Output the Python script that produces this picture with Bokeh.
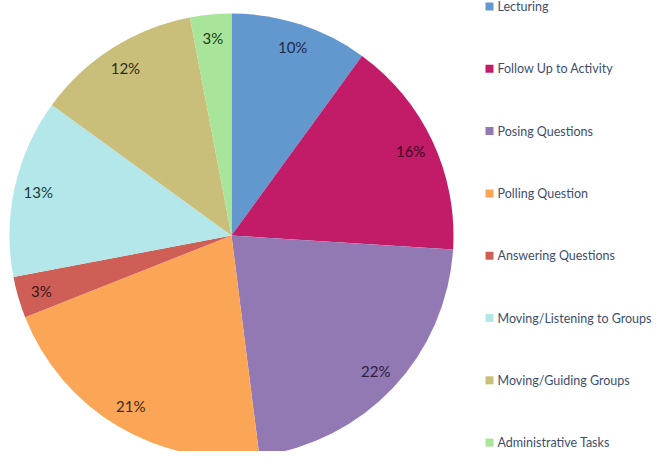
import math
from bokeh.plotting import figure
from bokeh.models import ColumnDataSource, Range1d
from bokeh.core.properties import value
from bokeh.embed import file_html
from bokeh.resources import INLINE

categories = ["Lecturing", "Follow Up to Activity", "Posing Questions", "Polling Question",
              "Answering Questions", "Moving/Listening to Groups", "Moving/Guiding Groups",
              "Administrative Tasks"]
percents = [10, 16, 22, 21, 3, 13, 12, 3]
colors = ["#6398CE", "#C21B67", "#9279B4", "#FBA557", "#CF5E57", "#B4E7E9", "#C9BF7A", "#A8E59A"]
label_colors = ["#1B2B4A", "#3E0820", "#2A2040", "#3A2A18", "#3A1512", "#1E3A3C", "#2E2C18", "#1E3A18"]

W, H = 656, 451
cx, cy, R = 231, 216, 222
label_r = 198

total = sum(percents)
starts, ends, lx, ly, texts = [], [], [], [], []
cum = 0
for v in percents:
    a0 = math.pi / 2 - 2 * math.pi * cum / total
    cum += v
    a1 = math.pi / 2 - 2 * math.pi * cum / total
    starts.append(a0)
    ends.append(a1)
    mid = (a0 + a1) / 2
    lx.append(cx + label_r * math.cos(mid))
    ly.append(cy + label_r * math.sin(mid))
    texts.append(f"{v}%")

src = ColumnDataSource(dict(cat=categories, start=starts, end=ends, color=colors,
                            lx=lx, ly=ly, txt=texts, tcol=label_colors))

p = figure(width=W, height=H, output_backend="svg", toolbar_location=None,
           x_range=Range1d(0, W), y_range=Range1d(0, H), min_border=0)
p.axis.visible = False
p.grid.visible = False
p.outline_line_color = None
p.background_fill_color = "white"

p.wedge(x=cx, y=cy, radius=R, start_angle="start", end_angle="end", direction="clock",
        fill_color="color", line_color=None, source=src)
p.text(x="lx", y="ly", text="txt", text_color="tcol", text_align="center",
       text_baseline="middle", text_font=value("Lato"), text_font_size="15px", source=src)

# legend
leg_top = H - 6
leg_step = 62.3
legy = [leg_top - i * leg_step for i in range(len(categories))]
lsrc = ColumnDataSource(dict(y=legy, cat=categories, color=colors))
p.scatter(x=489, y="y", marker="square", size=8, fill_color="color", line_color=None, source=lsrc)
p.text(x=497, y="y", text="cat", text_color="#3E4E6E", text_baseline="middle",
       text_font=value("Lato"), text_font_size="12.5px", source=lsrc)

open("out.html", "w").write(file_html(p, INLINE))
